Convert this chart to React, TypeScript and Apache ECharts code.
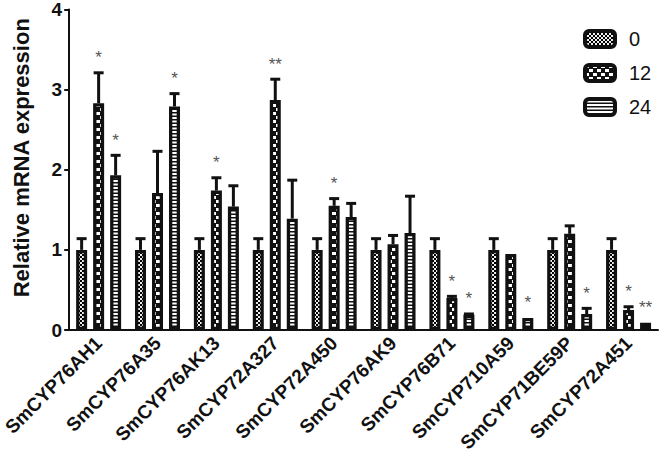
import React, { useEffect, useRef } from "react";
import * as echarts from "echarts";

const categories = [
  "SmCYP76AH1",
  "SmCYP76A35",
  "SmCYP76AK13",
  "SmCYP72A327",
  "SmCYP72A450",
  "SmCYP76AK9",
  "SmCYP76B71",
  "SmCYP710A59",
  "SmCYP71BE59P",
  "SmCYP72A451",
];
const seriesNames = ["0", "12", "24"];
const values0 = [1, 1, 1, 1, 1, 1, 1, 1, 1, 1];
const values12 = [2.83, 1.71, 1.74, 2.87, 1.55, 1.07, 0.4, 0.95, 1.2, 0.25];
const values24 = [1.93, 2.79, 1.54, 1.39, 1.41, 1.21, 0.19, 0.15, 0.2, 0.09];
const errors0 = [0.14, 0.14, 0.14, 0.14, 0.14, 0.14, 0.14, 0.14, 0.14, 0.14];
const errors12 = [0.38, 0.52, 0.16, 0.26, 0.09, 0.11, 0.02, 0.0, 0.1, 0.04];
const errors24 = [0.25, 0.16, 0.26, 0.48, 0.17, 0.46, 0.01, 0.0, 0.07, 0.0];
const stars0 = ["", "", "", "", "", "", "", "", "", ""];
const stars12 = ["*", "", "*", "**", "*", "", "*", "", "", "*"];
const stars24 = ["*", "*", "", "", "", "", "*", "*", "*", "**"];
const yTicks = [0, 1, 2, 3, 4];

const BAR_W = 11;
const BAR_STEP = 17;
const FONT = "'Liberation Sans', Arial, sans-serif";

function makeCanvas(w: number, h: number, draw: (ctx: CanvasRenderingContext2D) => void) {
  const c = document.createElement("canvas");
  c.width = w;
  c.height = h;
  const ctx = c.getContext("2d")!;
  draw(ctx);
  return c;
}

export default function App() {
  const ref = useRef<HTMLDivElement>(null);
  useEffect(() => {
    if (!ref.current) return;
    const chart = echarts.init(ref.current, null, { renderer: "svg" });

    const fine = makeCanvas(4, 4, (ctx) => {
      ctx.fillStyle = "#eee";
      ctx.fillRect(0, 0, 4, 4);
      ctx.fillStyle = "#000";
      ctx.fillRect(0, 0, 2, 2);
      ctx.fillRect(2, 2, 2, 2);
    });
    const bold = makeCanvas(8, 8, (ctx) => {
      ctx.fillStyle = "#111";
      ctx.fillRect(0, 0, 8, 8);
      ctx.fillStyle = "#fff";
      ctx.fillRect(0, 0, 4, 3);
      ctx.fillRect(4, 4, 4, 3);
    });
    const stripes = makeCanvas(4, 7, (ctx) => {
      ctx.fillStyle = "#fff";
      ctx.fillRect(0, 0, 4, 7);
      ctx.fillStyle = "#111";
      ctx.fillRect(0, 0, 4, 1.5);
      ctx.fillRect(0, 3.5, 4, 1.5);
    });
    const patterns = [fine, bold, stripes].map((c) => ({ image: c.toDataURL(), repeat: "repeat" }));

    const allValues = [values0, values12, values24];
    const allErrors = [errors0, errors12, errors24];
    const allStars = [stars0, stars12, stars24];
    const items: { cat: number; s: number; v: number; e: number; star: string }[] = [];
    for (let s = 0; s < 3; s++) {
      for (let c = 0; c < categories.length; c++) {
        items.push({ cat: c, s, v: allValues[s][c], e: allErrors[s][c], star: allStars[s][c] });
      }
    }

    const barSeries = seriesNames.map((name, s) => ({
      name,
      type: "bar",
      data: allValues[s],
      barWidth: BAR_W,
      barGap: ((BAR_STEP - BAR_W) / BAR_W) * 100 + "%",
      itemStyle: { color: patterns[s], borderColor: "#111", borderWidth: 3.3 },
    }));

    chart.setOption({
      animation: false,
      backgroundColor: "#fff",
      grid: { left: 58, right: 6, top: 8, bottom: 129, containLabel: false },
      legend: {
        data: seriesNames,
        orient: "vertical",
        left: 578,
        top: 24,
        itemWidth: 30,
        itemHeight: 16,
        itemGap: 14,
        itemStyle: { borderWidth: 4, borderColor: "#111" },
        textStyle: { fontFamily: FONT, fontSize: 20, color: "#111", padding: [0, 0, 0, 9] },
      },
      xAxis: {
        type: "category",
        data: categories,
        axisLine: { lineStyle: { color: "#111", width: 2 } },
        axisTick: { alignWithLabel: true, length: 6, lineStyle: { color: "#111", width: 2 } },
        axisLabel: {
          interval: 0,
          rotate: 45,
          margin: 10,
          fontFamily: FONT,
          fontWeight: "bold",
          fontSize: 19,
          color: "#111",
        },
      },
      yAxis: {
        type: "value",
        min: yTicks[0],
        max: yTicks[yTicks.length - 1],
        interval: 1,
        name: "Relative mRNA expression",
        nameLocation: "middle",
        nameGap: 37,
        nameTextStyle: {
          fontFamily: FONT,
          fontWeight: "bold",
          fontSize: 22,
          color: "#111",
          padding: [0, 0, 0, 24],
        },
        splitLine: { show: false },
        axisLine: { show: true, lineStyle: { color: "#111", width: 2 } },
        axisTick: { show: true, length: 5, lineStyle: { color: "#111", width: 2 } },
        axisLabel: { fontFamily: FONT, fontWeight: "bold", fontSize: 19, color: "#111", margin: 7 },
      },
      series: [
        ...barSeries,
        {
          type: "custom",
          silent: true,
          z: 5,
          data: items.map((d) => [d.cat, d.v + d.e]),
          renderItem: (params: any, api: any) => {
            const d = items[params.dataIndex];
            const base = api.coord([d.cat, d.v]);
            const top = api.coord([d.cat, d.v + d.e]);
            const x = base[0] + (d.s - 1) * BAR_STEP;
            const children: any[] = [];
            if (d.e > 0.005) {
              children.push({
                type: "line",
                shape: { x1: x, y1: base[1], x2: x, y2: top[1] },
                style: { stroke: "#111", lineWidth: 3 },
              });
              children.push({
                type: "line",
                shape: { x1: x - 5, y1: top[1], x2: x + 5, y2: top[1] },
                style: { stroke: "#111", lineWidth: 3 },
              });
            }
            if (d.star) {
              children.push({
                type: "text",
                x,
                y: top[1] - 15,
                style: {
                  text: d.star,
                  fill: "#555",
                  fontSize: 17,
                  fontFamily: FONT,
                  align: "center",
                  verticalAlign: "middle",
                },
              });
            }
            return { type: "group", children };
          },
        },
      ],
    });
    return () => chart.dispose();
  }, []);
  return <div ref={ref} style={{ position: "absolute", left: 0, top: 0, width: 664, height: 459 }} />;
}
